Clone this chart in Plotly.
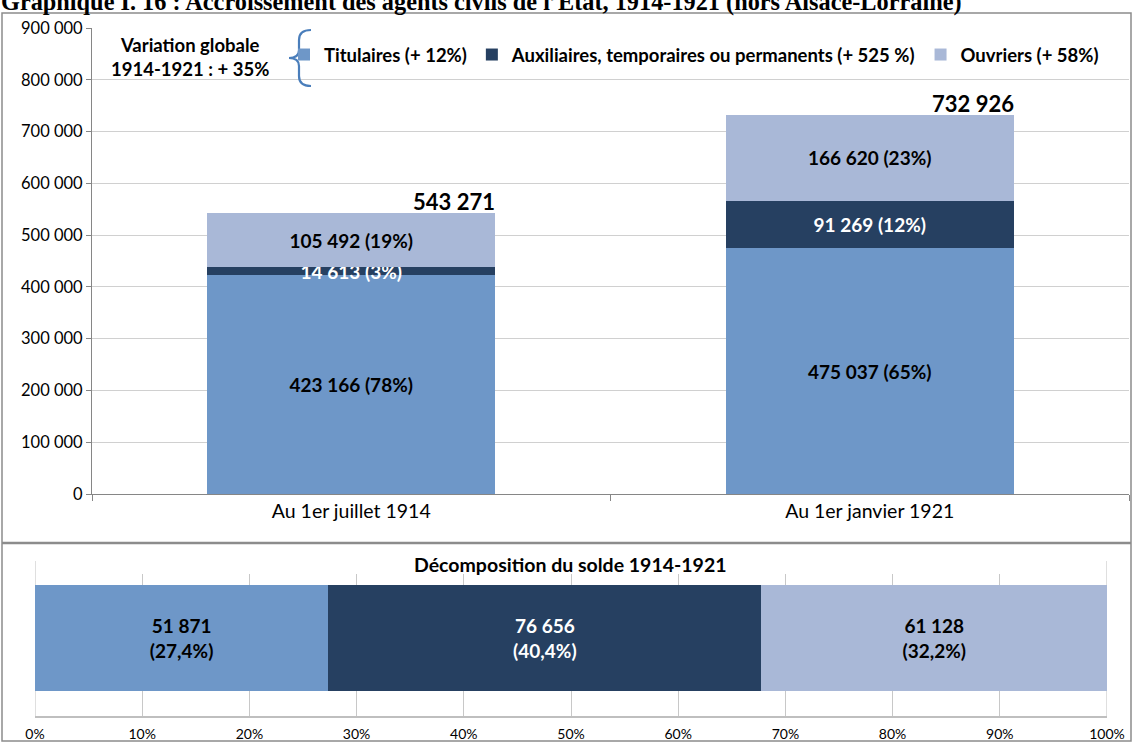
import plotly.graph_objects as go

W, H = 1132, 742

categories = ["Au 1er juillet 1914", "Au 1er janvier 1921"]
titulaires = [423166, 475037]
auxiliaires = [14613, 91269]
ouvriers = [105492, 166620]
totals = [543271, 732926]

series_names = ["Titulaires (+ 12%)",
                "Auxiliaires, temporaires ou permanents (+ 525 %)",
                "Ouvriers (+ 58%)"]
colors = ["#6E97C8", "#264061", "#A9B8D7"]

solde_values = [51871, 76656, 61128]
solde_pcts = ["27,4%", "40,4%", "32,2%"]

y_ticks = [0, 100000, 200000, 300000, 400000, 500000, 600000, 700000, 800000, 900000]
pct_ticks = [0, 10, 20, 30, 40, 50, 60, 70, 80, 90, 100]
pct_tick_labels = ["0%", "10%", "20%", "30%", "40%", "50%", "60%", "70%", "80%", "90%", "100%"]

FONT = "Lato"


def fx(px):
    return px / W


def fy(py):
    return 1 - py / H


def fmt(v):
    return f"{v:,}".replace(",", " ")


fig = go.Figure()

stack = [titulaires, auxiliaires, ouvriers]
text_colors = ["black", "white", "black"]
for name, vals, col, tcol in zip(series_names, stack, colors, text_colors):
    labels = [f"{fmt(v)} ({round(v / t * 100)}%)" for v, t in zip(vals, totals)]
    fig.add_trace(go.Bar(
        x=categories, y=vals, name=name, marker=dict(color=col, line=dict(width=0)),
        width=0.556, text=labels, textposition="inside", insidetextanchor="middle",
        textangle=0, textfont=dict(family=FONT, size=19, color=tcol, weight="bold"),
        xaxis="x", yaxis="y", cliponaxis=False, hoverinfo="skip",
    ))

solde_total = sum(solde_values)
for name, v, col, pct in zip(series_names, solde_values, colors, solde_pcts):
    fig.add_trace(go.Bar(
        x=[v / solde_total * 100], y=[0], orientation="h", name=name, showlegend=False,
        marker=dict(color=col, line=dict(width=0)), width=0.746,
        text=[f"{fmt(v)}<br>({pct})"], textposition="inside", insidetextanchor="middle",
        textangle=0,
        textfont=dict(family=FONT, size=19, color="white" if col == "#264061" else "black", weight="bold"),
        xaxis="x2", yaxis="y2", hoverinfo="skip",
    ))

for i, t in enumerate(totals):
    fig.add_annotation(x=i + 0.278, y=t, xref="x", yref="y", text=f"<b>{fmt(t)}</b>",
                       showarrow=False, xanchor="right", yanchor="bottom",
                       font=dict(family=FONT, size=22, color="black"), yshift=-4, xshift=2)

# Title (partly cut at top, as in reference)
fig.add_annotation(x=0, y=fy(17), xref="paper", yref="paper", xanchor="left", yanchor="bottom",
                   text="<b>Graphique I. 16 : Accroissement des agents civils de l’Etat, 1914-1921 (hors Alsace-Lorraine)</b>",
                   showarrow=False, font=dict(family="Liberation Serif", size=24.3, color="black"),
                   borderpad=0)

# Variation globale note
fig.add_annotation(x=fx(190), y=fy(57), xref="paper", yref="paper", xanchor="center", yanchor="middle",
                   text="<b>Variation globale<br>1914-1921 : + 35%</b>", showarrow=False, align="center",
                   font=dict(family=FONT, size=18.5, color="black"))

# Bottom chart title
fig.add_annotation(x=fx(570), y=fy(564), xref="paper", yref="paper", xanchor="center", yanchor="middle",
                   text="<b>Décomposition du solde 1914-1921</b>", showarrow=False,
                   font=dict(family=FONT, size=19.5, color="black"))

# brace
bx, mid, tip = 311, 299, 289
path = (f"M {fx(bx)},{fy(30)} Q {fx(mid)},{fy(30)} {fx(mid)},{fy(40)} "
        f"L {fx(mid)},{fy(50)} Q {fx(mid)},{fy(58)} {fx(tip)},{fy(58)} "
        f"Q {fx(mid)},{fy(58)} {fx(mid)},{fy(66)} L {fx(mid)},{fy(76)} "
        f"Q {fx(mid)},{fy(86)} {fx(bx)},{fy(86)}")
fig.add_shape(type="path", path=path, xref="paper", yref="paper",
              line=dict(color="#4A7EBB", width=2.2))

# frames
fig.add_shape(type="rect", x0=fx(2), x1=fx(1131), y0=fy(741), y1=fy(13), xref="paper", yref="paper",
              line=dict(color="#8C8C8C", width=1.5))
fig.add_shape(type="line", x0=fx(2), x1=fx(1131), y0=fy(543), y1=fy(543), xref="paper", yref="paper",
              line=dict(color="#8C8C8C", width=2.5))
for xv in [0, 100]:
    fig.add_shape(type="line", x0=xv, x1=xv, y0=fy(561), y1=fy(716), xref="x2", yref="paper",
                  line=dict(color="#BFBFBF", width=1), layer="below")

fig.update_layout(
    width=W, height=H, margin=dict(l=0, r=0, t=0, b=0, autoexpand=False),
    paper_bgcolor="white", plot_bgcolor="rgba(0,0,0,0)",
    barmode="stack", bargap=0, separators=", ",
    font=dict(family=FONT, size=16, color="black"),
    uniformtext=dict(minsize=19, mode="show"),
    showlegend=True, hovermode=False,
    legend=dict(orientation="h", x=fx(284), y=fy(55), xanchor="left", yanchor="middle",
                bgcolor="rgba(0,0,0,0)", font=dict(family=FONT, size=18.5, color="black", weight="bold"),
                itemwidth=30, traceorder="normal"),
    xaxis=dict(domain=[fx(92), fx(1129)], range=[-0.5, 1.5], type="category",
               showline=True, linecolor="#868686", linewidth=1,
               ticks="outside", tickson="boundaries", ticklen=6, tickcolor="#868686",
               tickfont=dict(family=FONT, size=19.5), showgrid=False, anchor="y", automargin=False),
    yaxis=dict(domain=[fy(494), fy(28)], range=[0, 900000], tickvals=y_ticks,
               tickformat=",d", showline=True, linecolor="#868686", linewidth=1,
               ticks="outside", ticklen=5, tickcolor="#868686",
               showgrid=True, gridcolor="#D0D0D0", gridwidth=1,
               tickfont=dict(family=FONT, size=16.5), zeroline=False, anchor="x", automargin=False),
    xaxis2=dict(domain=[fx(35), fx(1107)], range=[0, 100], tickvals=pct_ticks, ticktext=pct_tick_labels,
                showline=True, linecolor="#BFBFBF", linewidth=2,
                showgrid=True, gridcolor="#C8C8C8", gridwidth=1, zeroline=False,
                tickfont=dict(family=FONT, size=14), anchor="y2", ticks="", automargin=False,
                ticklabelstandoff=4),
    yaxis2=dict(domain=[fy(716), fy(574)], range=[-0.549, 0.451], visible=False, anchor="x2",
                automargin=False),
)

fig.write_html("out.html", config={"displayModeBar": False, "staticPlot": True},
               post_script="document.body.style.margin='0';document.body.style.overflow='hidden';")
